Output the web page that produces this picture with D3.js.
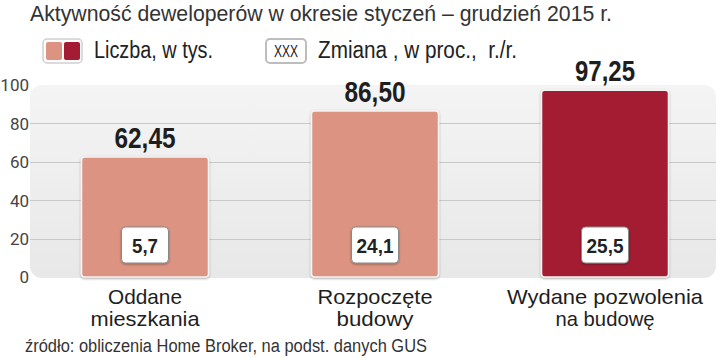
<!DOCTYPE html>
<html><head><meta charset="utf-8">
<script src="https://cdn.jsdelivr.net/npm/d3@7"></script>
<style>
html,body{margin:0;padding:0;background:#fff;}
svg{display:block;}
.cond{font-family:"Liberation Sans","Arimo",Arial,sans-serif;white-space:pre;}
</style></head>
<body><svg id="c" width="720" height="358"></svg>
<script>
const title = "Aktywność deweloperów w okresie styczeń – grudzień 2015 r.";
const legendLabels = ["Liczba, w tys.", "Zmiana , w proc.,  r./r."];
const categories = [["Oddane","mieszkania"],["Rozpoczęte","budowy"],["Wydane pozwolenia","na budowę"]];
const values = [62.45, 86.50, 97.25];
const valueLabels = ["62,45","86,50","97,25"];
const changes = ["5,7","24,1","25,5"];
const yTicks = [0,20,40,60,80,100];
const source = "źródło: obliczenia Home Broker, na podst. danych GUS";

// styling (kept apart from data): rendered widths emulating the condensed typeface
const barColors = ["#dc9381","#dc9381","#a31c33"];
const textWidths = {
  [title]:582, "Liczba, w tys.":119, "Zmiana , w proc.,  r./r.":199, "XXX":24,
  "62,45":61, "86,50":61, "97,25":60, "5,7":26, "24,1":37, "25,5":37,
  "Oddane":74, "mieszkania":109, "Rozpoczęte":115, "budowy":77, "Wydane pozwolenia":196, "na budowę":99,
  [source]:402
};
function fit(sel){ sel.each(function(){ const t=d3.select(this).text(); if(textWidths[t]) d3.select(this).attr("textLength",textWidths[t]).attr("lengthAdjust","spacingAndGlyphs"); }); }

const svg = d3.select("#c");
const defs = svg.append("defs");
const g1 = defs.append("linearGradient").attr("id","panel").attr("x1",0).attr("y1",0).attr("x2",0).attr("y2",1);
g1.append("stop").attr("offset","0%").attr("stop-color","#f4f4f4");
g1.append("stop").attr("offset","100%").attr("stop-color","#e8e8e8");
const f = defs.append("filter").attr("id","sh").attr("x","-20%").attr("y","-20%").attr("width","140%").attr("height","140%");
f.append("feDropShadow").attr("dx",0).attr("dy",1).attr("stdDeviation",1.2).attr("flood-color","#000").attr("flood-opacity",0.35);

const x = d3.scaleBand().domain(d3.range(values.length)).range([30,720]).paddingInner(0.448).paddingOuter(0.224);
const y = d3.scaleLinear().domain([0,100]).range([277,85]);

// panel
svg.append("rect").attr("x",30).attr("y",y(100)).attr("width",686).attr("height",y(0)-y(100)+1)
  .attr("rx",12).attr("fill","url(#panel)");

// grid
svg.append("g").selectAll("line").data(yTicks.filter(d=>d>0&&d<100)).join("line")
  .attr("x1",30).attr("x2",716).attr("y1",d=>Math.round(y(d))+0.5).attr("y2",d=>Math.round(y(d))+0.5)
  .attr("stroke","#c9c9c9").attr("stroke-width",1);

// y axis
const ax = svg.append("g").attr("transform","translate(29,0)").call(d3.axisLeft(y).tickValues(yTicks).tickSize(0).tickPadding(0));
ax.select(".domain").remove();
ax.selectAll("text").attr("font-family","Roboto, 'Noto Sans', sans-serif").attr("font-size",17).attr("fill","#444").attr("dy","0.35em");

// bars
svg.append("g").selectAll("rect").data(values).join("rect")
  .attr("x",(d,i)=>x(i)).attr("y",d=>y(d)).attr("width",x.bandwidth()).attr("height",d=>y(0)-y(d))
  .attr("rx",3).attr("fill",(d,i)=>barColors[i]).attr("stroke","#f4f4f4").attr("stroke-width",1.5)
  .attr("filter","url(#sh)");

// value labels
svg.append("g").selectAll("text").data(values).join("text").attr("class","cond")
  .attr("x",(d,i)=>x(i)+x.bandwidth()/2).attr("y",d=>y(d)-9)
  .attr("text-anchor","middle").attr("font-size",29).attr("font-weight","bold").attr("fill","#1e1e1e")
  .text((d,i)=>valueLabels[i]).call(fit);

// change boxes
const cb = svg.append("g").selectAll("g").data(changes).join("g")
  .attr("transform",(d,i)=>`translate(${x(i)+x.bandwidth()/2},245)`);
cb.append("rect").attr("x",-23.5).attr("y",-18).attr("width",47).attr("height",36).attr("rx",4)
  .attr("fill","#fff").attr("stroke","#8a8a8a").attr("stroke-width",1).attr("filter","url(#sh)");
cb.append("text").attr("class","cond").attr("text-anchor","middle").attr("y",8)
  .attr("font-size",20).attr("font-weight","bold").attr("fill","#222").text(d=>d).call(fit);

// category labels (two lines each)
const catLines = categories.flatMap((c,i)=>c.map((t,j)=>({t,i,j})));
svg.append("g").selectAll("text").data(catLines).join("text").attr("class","cond")
  .attr("text-anchor","middle").attr("font-size",21).attr("fill","#1e1e1e")
  .attr("x",d=>x(d.i)+x.bandwidth()/2).attr("y",d=>304+d.j*22).text(d=>d.t).call(fit);

// title
svg.append("text").attr("class","cond").attr("x",30).attr("y",21).attr("font-size",22).attr("fill","#333").text(title).call(fit);

// legend
const lg = svg.append("g");
lg.append("rect").attr("x",43).attr("y",39).attr("width",39).attr("height",24).attr("rx",4)
  .attr("fill","#fff").attr("stroke","#cfcfcf").attr("stroke-width",1.5);
lg.append("rect").attr("x",46).attr("y",42).attr("width",16).attr("height",18).attr("rx",2).attr("fill",barColors[0]);
lg.append("rect").attr("x",64).attr("y",42).attr("width",16).attr("height",18).attr("rx",2).attr("fill",barColors[2]);
lg.append("text").attr("class","cond").attr("x",94).attr("y",58).attr("font-size",23).attr("fill","#222").text(legendLabels[0]).call(fit);
lg.append("rect").attr("x",266).attr("y",39).attr("width",40).attr("height",24).attr("rx",4)
  .attr("fill","#fff").attr("stroke","#bdbdbd").attr("stroke-width",2);
lg.append("text").attr("class","cond").attr("x",286).attr("y",57).attr("text-anchor","middle").attr("font-size",17).attr("fill","#222").text("XXX").call(fit);
lg.append("text").attr("class","cond").attr("x",318).attr("y",58).attr("font-size",23).attr("fill","#222").text(legendLabels[1]).call(fit);

// source
svg.append("text").attr("class","cond").attr("x",25).attr("y",352).attr("font-size",18).attr("fill","#333").text(source).call(fit);
</script></body></html>
